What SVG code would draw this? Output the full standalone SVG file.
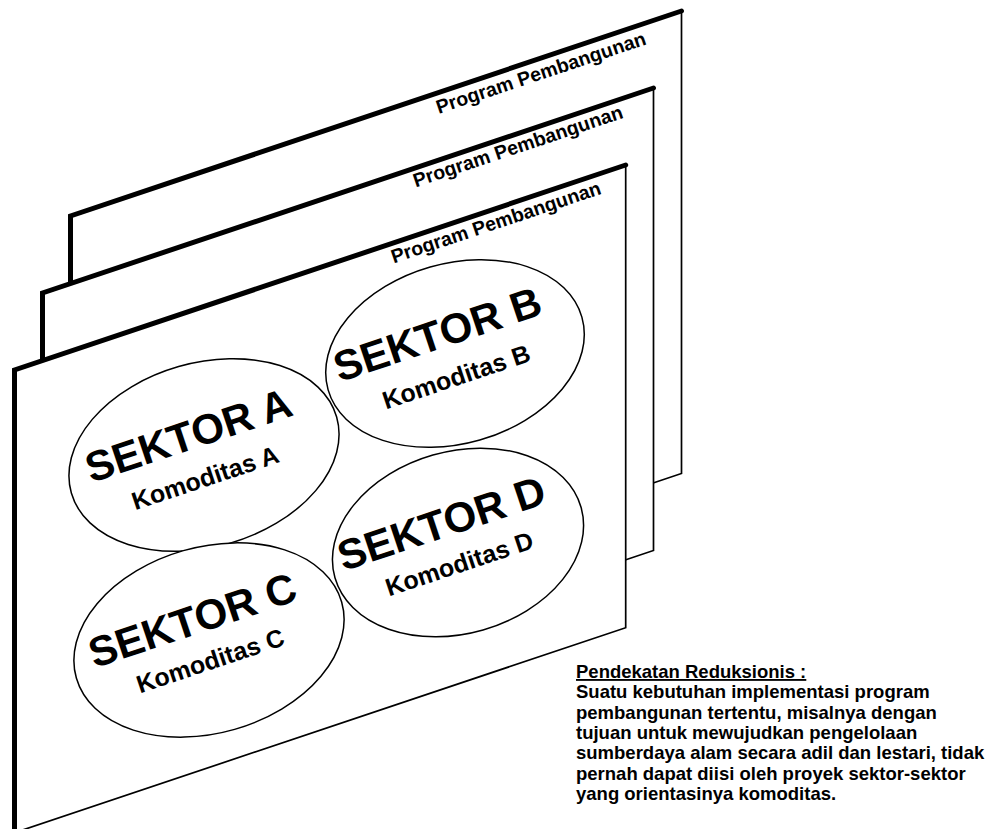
<svg xmlns="http://www.w3.org/2000/svg" width="990" height="829" viewBox="0 0 990 829">
<style>
.bg{fill:#fff;stroke:none}
.thin{fill:none;stroke:#000;stroke-width:1.7;stroke-linejoin:miter}
.thick{fill:none;stroke:#000;stroke-width:5;stroke-linejoin:miter;stroke-linecap:round}
.lbl{font-family:"Liberation Sans",Arial,sans-serif;font-weight:bold;font-size:19.5px;fill:#000;text-anchor:middle}
.ell{fill:#fff;stroke:#000;stroke-width:1.5}
.sek{font-family:"Liberation Sans",Arial,sans-serif;font-weight:bold;font-size:42px;fill:#000;text-anchor:middle}
.kom{font-family:"Liberation Sans",Arial,sans-serif;font-weight:bold;font-size:25px;fill:#000;text-anchor:middle}
.par{font-family:"Liberation Sans",Arial,sans-serif;font-weight:bold;font-size:18.5px;fill:#000}
</style>
<rect x="0" y="0" width="990" height="829" fill="#fff"/>
<g id="panel-back">
<polygon class="bg" points="70.5,216 681.5,11 681.5,473.5 70.5,678.5"/>
<polyline class="thin" points="681.5,11 681.5,473.5 70.5,678.5"/>
<polyline class="thick" points="70.5,678.5 70.5,216 681.5,11"/>
<text class="lbl" transform="translate(543,79) rotate(-18.5)">Program Pembangunan</text>
</g>
<g id="panel-middle">
<polygon class="bg" points="42.5,293 653.5,88 653.5,550.5 42.5,755.5"/>
<polyline class="thin" points="653.5,88 653.5,550.5 42.5,755.5"/>
<polyline class="thick" points="42.5,755.5 42.5,293 653.5,88"/>
<text class="lbl" transform="translate(520,152.5) rotate(-18.5)">Program Pembangunan</text>
</g>
<g id="panel-front">
<polygon class="bg" points="14.5,370 625.7,165 625.7,627.7 14.5,832.7"/>
<polyline class="thin" points="625.7,165 625.7,627.7 14.5,832.7"/>
<polyline class="thick" points="14.5,832.7 14.5,370 625.7,165"/>
<text class="lbl" transform="translate(498,228.5) rotate(-18.5)">Program Pembangunan</text>
</g>
<g id="connectors"></g>
<g id="sektor-a">
<ellipse class="ell" cx="0" cy="0" rx="138" ry="92" transform="translate(204,455) rotate(-16)"/>
<text class="sek" transform="translate(193,449) rotate(-18.5)">SEKTOR A</text>
<text class="kom" transform="translate(208,486) rotate(-18.5)">Komoditas A</text>
</g>
<g id="sektor-b">
<ellipse class="ell" cx="0" cy="0" rx="132" ry="90" transform="translate(455,353.5) rotate(-16)"/>
<text class="sek" transform="translate(442,348) rotate(-18.5)">SEKTOR B</text>
<text class="kom" transform="translate(459,385) rotate(-18.5)">Komoditas B</text>
</g>
<g id="sektor-c">
<ellipse class="ell" cx="0" cy="0" rx="138" ry="93" transform="translate(209,640) rotate(-16)"/>
<text class="sek" transform="translate(197,634) rotate(-18.5)">SEKTOR C</text>
<text class="kom" transform="translate(213,669) rotate(-18.5)">Komoditas C</text>
</g>
<g id="sektor-d">
<ellipse class="ell" cx="0" cy="0" rx="128" ry="91" transform="translate(458,542.5) rotate(-16)"/>
<text class="sek" transform="translate(446,537) rotate(-18.5)">SEKTOR D</text>
<text class="kom" transform="translate(462,572) rotate(-18.5)">Komoditas D</text>
</g>
<g id="note">
<text class="par" x="576" y="678" text-decoration="underline" style="text-decoration:underline">Pendekatan Reduksionis :</text>
<text class="par" x="576" y="698.3">Suatu kebutuhan implementasi program</text>
<text class="par" x="576" y="718.6">pembangunan tertentu, misalnya dengan</text>
<text class="par" x="576" y="739">tujuan untuk mewujudkan pengelolaan</text>
<text class="par" x="576" y="759.3">sumberdaya alam secara adil dan lestari, tidak</text>
<text class="par" x="576" y="779.6">pernah dapat diisi oleh proyek sektor-sektor</text>
<text class="par" x="576" y="800">yang orientasinya komoditas.</text>
</g>
</svg>
